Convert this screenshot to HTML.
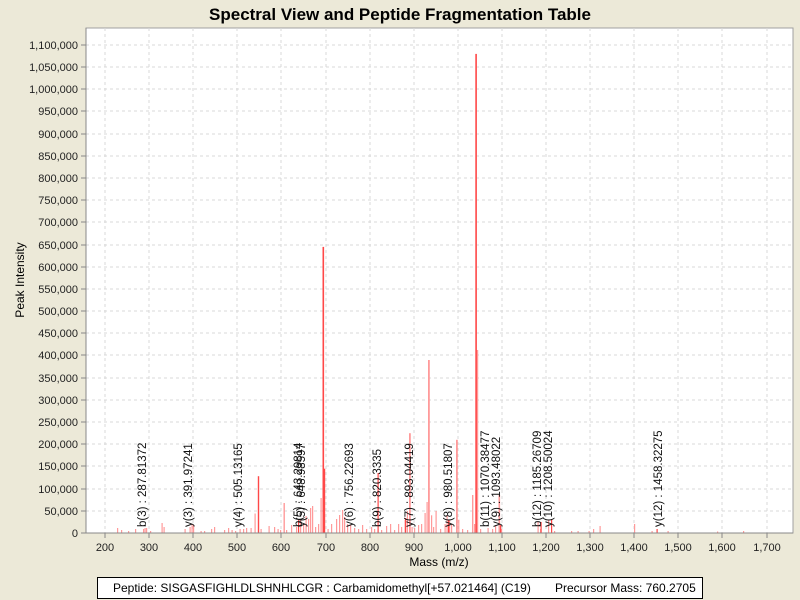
<!DOCTYPE html>
<html><head><meta charset="utf-8"><style>
html,body{margin:0;padding:0;background:#ece9d8;}
svg{display:block;font-family:"Liberation Sans",Arial,sans-serif;}
</style></head><body>
<svg width="800" height="600" xmlns="http://www.w3.org/2000/svg">
<rect width="800" height="600" fill="#ece9d8"/>
<text x="400" y="20" text-anchor="middle" font-size="17" font-weight="bold">Spectral View and Peptide Fragmentation Table</text>
<rect x="86" y="28" width="707" height="505" fill="#fff" stroke="#a0a0a0"/>
<g stroke="#d8d8d8" stroke-dasharray="3,3" stroke-width="1">
<line x1="86" x2="793" y1="511" y2="511"/><line x1="86" x2="793" y1="489" y2="489"/><line x1="86" x2="793" y1="466" y2="466"/><line x1="86" x2="793" y1="444" y2="444"/><line x1="86" x2="793" y1="422" y2="422"/><line x1="86" x2="793" y1="400" y2="400"/><line x1="86" x2="793" y1="378" y2="378"/><line x1="86" x2="793" y1="355" y2="355"/><line x1="86" x2="793" y1="333" y2="333"/><line x1="86" x2="793" y1="311" y2="311"/><line x1="86" x2="793" y1="289" y2="289"/><line x1="86" x2="793" y1="267" y2="267"/><line x1="86" x2="793" y1="245" y2="245"/><line x1="86" x2="793" y1="222" y2="222"/><line x1="86" x2="793" y1="200" y2="200"/><line x1="86" x2="793" y1="178" y2="178"/><line x1="86" x2="793" y1="156" y2="156"/><line x1="86" x2="793" y1="134" y2="134"/><line x1="86" x2="793" y1="111" y2="111"/><line x1="86" x2="793" y1="89" y2="89"/><line x1="86" x2="793" y1="67" y2="67"/><line x1="86" x2="793" y1="45" y2="45"/>
<line y1="28" y2="533" x1="105" x2="105"/><line y1="28" y2="533" x1="149" x2="149"/><line y1="28" y2="533" x1="193" x2="193"/><line y1="28" y2="533" x1="237" x2="237"/><line y1="28" y2="533" x1="281" x2="281"/><line y1="28" y2="533" x1="326" x2="326"/><line y1="28" y2="533" x1="370" x2="370"/><line y1="28" y2="533" x1="414" x2="414"/><line y1="28" y2="533" x1="458" x2="458"/><line y1="28" y2="533" x1="502" x2="502"/><line y1="28" y2="533" x1="546" x2="546"/><line y1="28" y2="533" x1="590" x2="590"/><line y1="28" y2="533" x1="634" x2="634"/><line y1="28" y2="533" x1="678" x2="678"/><line y1="28" y2="533" x1="722" x2="722"/><line y1="28" y2="533" x1="767" x2="767"/>
</g>
<g fill="#ff9a9a">
<rect x="117" y="528" width="1.2" height="5"/><rect x="121" y="530" width="1.2" height="3"/><rect x="128" y="531" width="1.2" height="2"/><rect x="135" y="529" width="1.2" height="4"/><rect x="143" y="529" width="1.2" height="4"/><rect x="144.5" y="528" width="1.2" height="5"/><rect x="146" y="528" width="1.2" height="5"/><rect x="150" y="531" width="1.2" height="2"/><rect x="161.5" y="523" width="1.2" height="10"/><rect x="163.5" y="527" width="1.2" height="6"/><rect x="184.5" y="529" width="1.2" height="4"/><rect x="189.5" y="527" width="1.2" height="6"/><rect x="191.5" y="524" width="1.2" height="9"/><rect x="193" y="525" width="1.2" height="8"/><rect x="200.5" y="531" width="1.2" height="2"/><rect x="204" y="531" width="1.2" height="2"/><rect x="211" y="529" width="1.2" height="4"/><rect x="214" y="527" width="1.2" height="6"/><rect x="224" y="530" width="1.2" height="3"/><rect x="228" y="528" width="1.2" height="5"/><rect x="231.5" y="530" width="1.2" height="3"/><rect x="235" y="531" width="1.2" height="2"/><rect x="239.5" y="529" width="1.2" height="4"/><rect x="243" y="529" width="1.2" height="4"/><rect x="246" y="528" width="1.2" height="5"/><rect x="250.5" y="528" width="1.2" height="5"/><rect x="254.5" y="513.5" width="1.2" height="19.5"/><rect x="260.5" y="529" width="1.2" height="4"/><rect x="268.5" y="526" width="1.2" height="7"/><rect x="274" y="527" width="1.2" height="6"/><rect x="277.5" y="529" width="1.2" height="4"/><rect x="280" y="530" width="1.2" height="3"/><rect x="283.5" y="503" width="1.4" height="30"/><rect x="286" y="530" width="1.2" height="3"/><rect x="291" y="525" width="1.2" height="8"/><rect x="296" y="527" width="1.2" height="6"/><rect x="300" y="520" width="1.2" height="13"/><rect x="303" y="524" width="1.2" height="9"/><rect x="305.5" y="516" width="1.2" height="17"/><rect x="308" y="519" width="1.2" height="14"/><rect x="310" y="508" width="1.2" height="25"/><rect x="312" y="506" width="1.2" height="27"/><rect x="315" y="527" width="1.2" height="6"/><rect x="318" y="524" width="1.2" height="9"/><rect x="320.5" y="498" width="1.2" height="35"/><rect x="327.5" y="529" width="1.2" height="4"/><rect x="331" y="524" width="1.2" height="9"/><rect x="336" y="519" width="1.2" height="14"/><rect x="339" y="515" width="1.2" height="18"/><rect x="342" y="510" width="1.2" height="23"/><rect x="344" y="517" width="1.2" height="16"/><rect x="347" y="524" width="1.2" height="9"/><rect x="350" y="525" width="1.2" height="8"/><rect x="354" y="528" width="1.2" height="5"/><rect x="358" y="529" width="1.2" height="4"/><rect x="362" y="525" width="1.2" height="8"/><rect x="366" y="529" width="1.2" height="4"/><rect x="371" y="527" width="1.2" height="6"/><rect x="374" y="529" width="1.2" height="4"/><rect x="381" y="530" width="1.2" height="3"/><rect x="386" y="526" width="1.2" height="7"/><rect x="390" y="524" width="1.2" height="9"/><rect x="394" y="530" width="1.2" height="3"/><rect x="398" y="524" width="1.2" height="9"/><rect x="401" y="527" width="1.2" height="6"/><rect x="404.5" y="519.7" width="1.2" height="13.3"/><rect x="406.8" y="511" width="1.2" height="22"/><rect x="409" y="433.2" width="1.8" height="99.8"/><rect x="411.5" y="527" width="1.2" height="6"/><rect x="414" y="528" width="1.2" height="5"/><rect x="418" y="525" width="1.2" height="8"/><rect x="421" y="524" width="1.2" height="9"/><rect x="424.5" y="513" width="1.2" height="20"/><rect x="426.5" y="502" width="1.2" height="31"/><rect x="428" y="360" width="1.8" height="173"/><rect x="431" y="515.3" width="1.2" height="17.7"/><rect x="433" y="527" width="1.2" height="6"/><rect x="435.5" y="511" width="1.2" height="22"/><rect x="440" y="529" width="1.2" height="4"/><rect x="444.5" y="524" width="1.2" height="9"/><rect x="446.5" y="515" width="1.2" height="18"/><rect x="449" y="519.7" width="1.2" height="13.3"/><rect x="451" y="524" width="1.2" height="9"/><rect x="456" y="439.8" width="1.8" height="93.2"/><rect x="458.2" y="519.7" width="1.2" height="13.3"/><rect x="462" y="529" width="1.2" height="4"/><rect x="467" y="530" width="1.2" height="3"/><rect x="472" y="495" width="1.4" height="38"/><rect x="474" y="524" width="1.2" height="9"/><rect x="476.6" y="350" width="1.6" height="183"/><rect x="480" y="529" width="1.2" height="4"/><rect x="487.5" y="528" width="1.2" height="5"/><rect x="492" y="529" width="1.2" height="4"/><rect x="495" y="525" width="1.2" height="8"/><rect x="498.5" y="495" width="1.6" height="38"/><rect x="501" y="529" width="1.2" height="4"/><rect x="537.5" y="522" width="1.2" height="11"/><rect x="540" y="529" width="1.2" height="4"/><rect x="548" y="520" width="1.2" height="13"/><rect x="554" y="531" width="1.2" height="2"/><rect x="571" y="531" width="1.2" height="2"/><rect x="577.5" y="531" width="1.2" height="2"/><rect x="588.5" y="531" width="1.2" height="2"/><rect x="593" y="529" width="1.2" height="4"/><rect x="599.5" y="526" width="1.2" height="7"/><rect x="634" y="524" width="1.2" height="9"/><rect x="651.5" y="531" width="1.2" height="2"/><rect x="667.5" y="531" width="1.2" height="2"/><rect x="717" y="531.5" width="1.2" height="1.5"/><rect x="743" y="531" width="1.2" height="2"/>
</g>
<g fill="#ff4848">
<rect x="257.8" y="476.2" width="1.4" height="56.8"/><rect x="322.5" y="246.9" width="1.6" height="286.1"/><rect x="323.8" y="468.7" width="1.4" height="64.3"/><rect x="475.3" y="53.9" width="1.6" height="479.1"/><rect x="377.5" y="473" width="1.2" height="60"/><rect x="405" y="518" width="1.2" height="15"/><rect x="448" y="520" width="1.2" height="13"/><rect x="500" y="525" width="1.2" height="8"/><rect x="540.5" y="522" width="1.2" height="11"/><rect x="551" y="519" width="1.2" height="14"/><rect x="656.5" y="529" width="1.2" height="4"/><rect x="298" y="520" width="1.2" height="13"/>
</g>
<line x1="86" y1="533" x2="793" y2="533" stroke="#888"/>
<line x1="86" y1="28" x2="86" y2="533" stroke="#888"/>
<g stroke="#888">
<line x1="81" x2="86" y1="533" y2="533"/><line x1="81" x2="86" y1="511" y2="511"/><line x1="81" x2="86" y1="489" y2="489"/><line x1="81" x2="86" y1="466" y2="466"/><line x1="81" x2="86" y1="444" y2="444"/><line x1="81" x2="86" y1="422" y2="422"/><line x1="81" x2="86" y1="400" y2="400"/><line x1="81" x2="86" y1="378" y2="378"/><line x1="81" x2="86" y1="355" y2="355"/><line x1="81" x2="86" y1="333" y2="333"/><line x1="81" x2="86" y1="311" y2="311"/><line x1="81" x2="86" y1="289" y2="289"/><line x1="81" x2="86" y1="267" y2="267"/><line x1="81" x2="86" y1="245" y2="245"/><line x1="81" x2="86" y1="222" y2="222"/><line x1="81" x2="86" y1="200" y2="200"/><line x1="81" x2="86" y1="178" y2="178"/><line x1="81" x2="86" y1="156" y2="156"/><line x1="81" x2="86" y1="134" y2="134"/><line x1="81" x2="86" y1="111" y2="111"/><line x1="81" x2="86" y1="89" y2="89"/><line x1="81" x2="86" y1="67" y2="67"/><line x1="81" x2="86" y1="45" y2="45"/>
<line y1="533" y2="538" x1="105" x2="105"/><line y1="533" y2="538" x1="149" x2="149"/><line y1="533" y2="538" x1="193" x2="193"/><line y1="533" y2="538" x1="237" x2="237"/><line y1="533" y2="538" x1="281" x2="281"/><line y1="533" y2="538" x1="326" x2="326"/><line y1="533" y2="538" x1="370" x2="370"/><line y1="533" y2="538" x1="414" x2="414"/><line y1="533" y2="538" x1="458" x2="458"/><line y1="533" y2="538" x1="502" x2="502"/><line y1="533" y2="538" x1="546" x2="546"/><line y1="533" y2="538" x1="590" x2="590"/><line y1="533" y2="538" x1="634" x2="634"/><line y1="533" y2="538" x1="678" x2="678"/><line y1="533" y2="538" x1="722" x2="722"/><line y1="533" y2="538" x1="767" x2="767"/>
</g>
<g font-size="11" text-anchor="end" fill="#222">
<text x="78" y="537">0</text><text x="78" y="515">50,000</text><text x="78" y="493">100,000</text><text x="78" y="470">150,000</text><text x="78" y="448">200,000</text><text x="78" y="426">250,000</text><text x="78" y="404">300,000</text><text x="78" y="382">350,000</text><text x="78" y="359">400,000</text><text x="78" y="337">450,000</text><text x="78" y="315">500,000</text><text x="78" y="293">550,000</text><text x="78" y="271">600,000</text><text x="78" y="249">650,000</text><text x="78" y="226">700,000</text><text x="78" y="204">750,000</text><text x="78" y="182">800,000</text><text x="78" y="160">850,000</text><text x="78" y="138">900,000</text><text x="78" y="115">950,000</text><text x="78" y="93">1,000,000</text><text x="78" y="71">1,050,000</text><text x="78" y="49">1,100,000</text>
</g>
<g font-size="11" text-anchor="middle" fill="#222">
<text x="105" y="551">200</text><text x="149" y="551">300</text><text x="193" y="551">400</text><text x="237" y="551">500</text><text x="281" y="551">600</text><text x="326" y="551">700</text><text x="370" y="551">800</text><text x="414" y="551">900</text><text x="458" y="551">1,000</text><text x="502" y="551">1,100</text><text x="546" y="551">1,200</text><text x="590" y="551">1,300</text><text x="634" y="551">1,400</text><text x="678" y="551">1,500</text><text x="722" y="551">1,600</text><text x="767" y="551">1,700</text>
</g>
<text x="439" y="566" font-size="12" text-anchor="middle">Mass (m/z)</text>
<text transform="translate(24,280) rotate(-90)" font-size="12" text-anchor="middle">Peak Intensity</text>
<g font-size="11.5" fill="#111">
<text transform="translate(146,527) rotate(-90)">b(3) : 287.81372</text>
<text transform="translate(192,527) rotate(-90)">y(3) : 391.97241</text>
<text transform="translate(242,527) rotate(-90)">y(4) : 505.13165</text>
<text transform="translate(302,527) rotate(-90)">b(5) : 643.29814</text>
<text transform="translate(305,527) rotate(-90)">y(5) : 648.98597</text>
<text transform="translate(353,527) rotate(-90)">y(6) : 756.22693</text>
<text transform="translate(381,527) rotate(-90)">b(9) : 820.3335</text>
<text transform="translate(413,527) rotate(-90)">y(7) : 893.04419</text>
<text transform="translate(452,527) rotate(-90)">y(8) : 980.51807</text>
<text transform="translate(489,527) rotate(-90)">b(11) : 1070.38477</text>
<text transform="translate(500,527) rotate(-90)">y(9) : 1093.48022</text>
<text transform="translate(541,527) rotate(-90)">b(12) : 1185.26709</text>
<text transform="translate(552,527) rotate(-90)">y(10) : 1208.50024</text>
<text transform="translate(662,527) rotate(-90)">y(12) : 1458.32275</text>
</g>
<rect x="97.5" y="577.5" width="605" height="21" fill="#fff" stroke="#000"/>
<text x="113" y="592" font-size="12">Peptide: SISGASFIGHLDLSHNHLCGR : Carbamidomethyl[+57.021464] (C19)</text>
<text x="555" y="592" font-size="12">Precursor Mass: 760.2705</text>
</svg>
</body></html>
